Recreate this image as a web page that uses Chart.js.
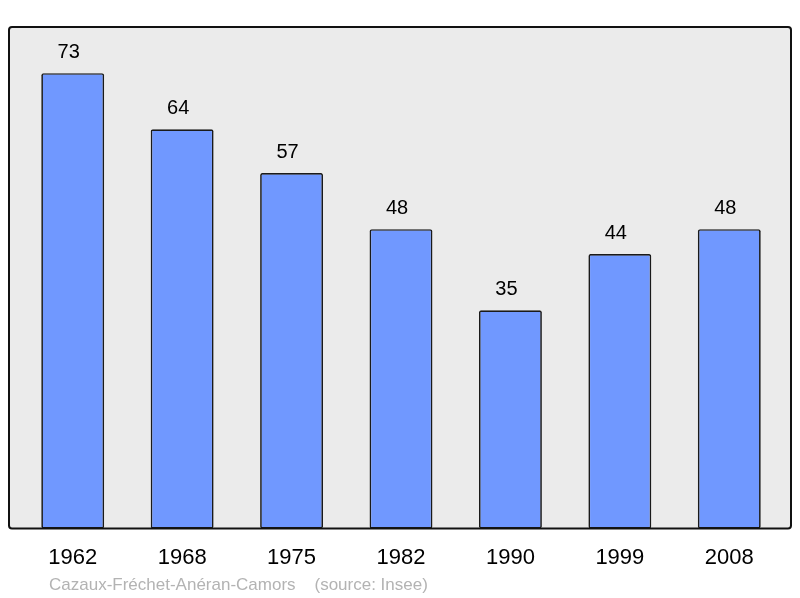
<!DOCTYPE html>
<html>
<head>
<meta charset="utf-8">
<script src="https://cdn.jsdelivr.net/npm/chart.js@4/dist/chart.umd.min.js"></script>
<style>
    html, body { margin: 0; padding: 0; background: #ffffff; }
    #wrap { width: 800px; height: 598px; }
</style>
</head>
<body>
<div id="wrap"><canvas id="popChart" width="800" height="598"></canvas></div>
<script>
const years = ['1962', '1968', '1975', '1982', '1990', '1999', '2008'];
const population = [73, 64, 57, 48, 35, 44, 48];
const sourceText = 'Cazaux-Fréchet-Anéran-Camors    (source: Insee)';

// grey panel behind the bars, a bit wider than the category area
const panelPlugin = {
    id: 'panel',
    beforeDatasetsDraw(chart) {
        const { ctx, chartArea } = chart;
        ctx.save();
        ctx.beginPath();
        ctx.roundRect(9, chartArea.top, 782, chartArea.bottom - chartArea.top, 3);
        ctx.fillStyle = '#ebebeb';
        ctx.fill();
        ctx.restore();
    },
    afterDatasetsDraw(chart) {
        const { ctx, chartArea } = chart;
        ctx.save();
        ctx.beginPath();
        ctx.roundRect(9, chartArea.top, 782, chartArea.bottom - chartArea.top, 3);
        ctx.lineWidth = 2;
        ctx.strokeStyle = '#111111';
        ctx.stroke();

        // values above bars (sit a little left of centre in the original)
        const meta = chart.getDatasetMeta(0);
        ctx.fillStyle = '#000000';
        ctx.font = '20px "Liberation Sans", Arial, sans-serif';
        ctx.textAlign = 'center';
        ctx.textBaseline = 'alphabetic';
        meta.data.forEach((bar, i) => {
            ctx.fillText(population[i], bar.x - 4, bar.y - 15);
        });

        // source line
        ctx.fillStyle = '#b3b3b3';
        ctx.font = '17px "Liberation Sans", Arial, sans-serif';
        ctx.textAlign = 'left';
        ctx.fillText(sourceText, 49, 590);
        ctx.restore();
    }
};

const ctx = document.getElementById('popChart').getContext('2d');
new Chart(ctx, {
    type: 'bar',
    data: {
        labels: years,
        datasets: [{
            data: population,
            backgroundColor: '#7098ff',
            borderColor: '#1a1a1a',
            borderWidth: 1.7,
            borderRadius: 2,
            borderSkipped: false,
            barPercentage: 0.575,
            categoryPercentage: 1
        }]
    },
    options: {
        responsive: false,
        animation: false,
        layout: {
            padding: { top: 27, left: 18, right: 16, bottom: 19 }
        },
        plugins: {
            legend: { display: false },
            tooltip: { enabled: false }
        },
        scales: {
            x: {
                grid: { display: false },
                border: { display: false },
                ticks: {
                    color: '#000000',
                    padding: 8,
                    font: { family: '"Liberation Sans", Arial, sans-serif', size: 22 }
                }
            },
            y: {
                display: false,
                min: 0,
                max: 80.4
            }
        }
    },
    plugins: [panelPlugin]
});
</script>
</body>
</html>
